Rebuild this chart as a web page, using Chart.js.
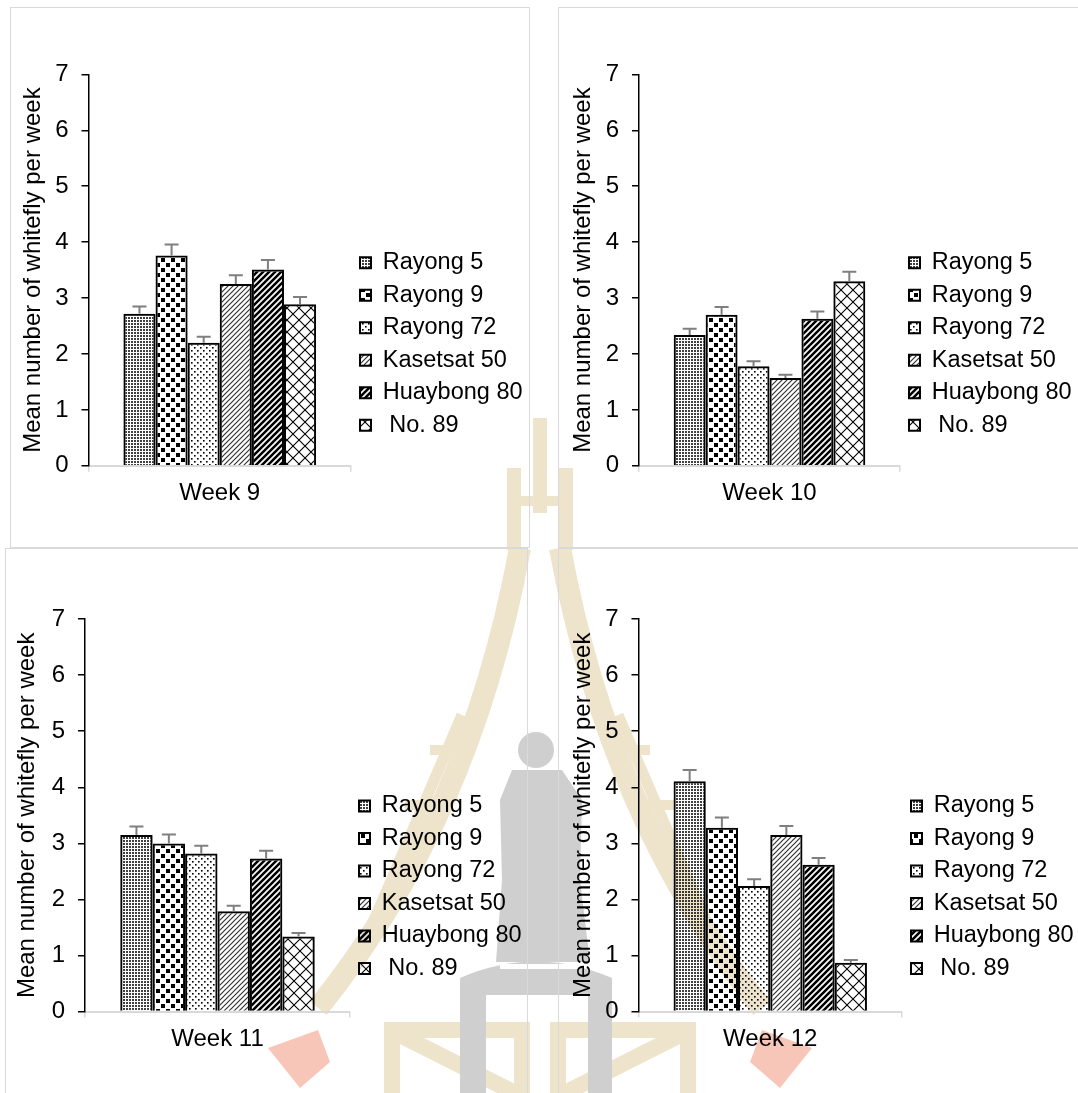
<!DOCTYPE html>
<html>
<head>
<meta charset="utf-8">
<script src="https://cdn.jsdelivr.net/npm/chart.js@4.4.1/dist/chart.umd.min.js"></script>
<style>
  body { margin: 0; background: #fff; width: 1078px; height: 1093px; position: relative; overflow: hidden; }
  #bg { position: absolute; left: 0; top: 0; }
  .panel { position: absolute; border: 1px solid #d9d9d9; overflow: hidden; }
  .panel canvas { display: block; }
</style>
</head>
<body>
<canvas id="bg" width="1078" height="1093"></canvas>
<div class="panel" style="left:10px;top:7px;width:518px;height:539px"><canvas id="w9"></canvas></div>
<div class="panel" style="left:558px;top:7px;width:540px;height:539px"><canvas id="w10"></canvas></div>
<div class="panel" style="left:5px;top:548px;width:521px;height:560px"><canvas id="w11"></canvas></div>
<div class="panel" style="left:558px;top:548px;width:540px;height:560px"><canvas id="w12"></canvas></div>
<script>
// data
const varieties = ['Rayong 5', 'Rayong 9', 'Rayong 72', 'Kasetsat 50', 'Huaybong 80', ' No. 89'];
const weeks = ['Week 9', 'Week 10', 'Week 11', 'Week 12'];
const week9  = [2.72, 3.76, 2.20, 3.25, 3.51, 2.89];
const week10 = [2.34, 2.70, 1.78, 1.57, 2.63, 3.30];
const week11 = [3.15, 3.00, 2.82, 1.79, 2.73, 1.34];
const week12 = [4.11, 3.28, 2.24, 3.15, 2.62, 0.87];
const err9  = [0.13, 0.20, 0.11, 0.16, 0.17, 0.13];
const err10 = [0.11, 0.14, 0.09, 0.06, 0.13, 0.17];
const err11 = [0.15, 0.16, 0.14, 0.10, 0.14, 0.06];
const err12 = [0.20, 0.18, 0.12, 0.16, 0.12, 0.05];
const yTicks = [0, 1, 2, 3, 4, 5, 6, 7];

const FONT = "'Liberation Sans', Arial, sans-serif";
Chart.defaults.font.family = FONT;
Chart.defaults.font.size = 24;
Chart.defaults.color = '#000';

// background watermark (university emblem, roughly)
(function () {
  const g = document.getElementById('bg').getContext('2d');
  const beige = '#eee3cb';
  g.fillStyle = beige; g.strokeStyle = beige; g.lineCap = 'butt';
  g.fillRect(533, 418, 14, 95);
  g.fillRect(507, 468, 14, 82); g.fillRect(559, 468, 14, 82);
  g.fillRect(507, 496, 66, 10);
  g.lineWidth = 22;
  g.beginPath(); g.moveTo(520, 548); g.quadraticCurveTo(470, 820, 318, 1008); g.stroke();
  g.beginPath(); g.moveTo(560, 548); g.quadraticCurveTo(610, 820, 762, 1008); g.stroke();
  g.lineWidth = 11;
  g.beginPath(); g.moveTo(462, 715); g.lineTo(372, 925); g.stroke();
  g.beginPath(); g.moveTo(618, 715); g.lineTo(708, 925); g.stroke();
  g.fillRect(430, 745, 45, 10); g.fillRect(605, 745, 45, 10);
  g.fillRect(405, 800, 45, 10); g.fillRect(630, 800, 45, 10);
  g.lineWidth = 16;
  g.strokeRect(392, 1030, 130, 90); g.strokeRect(558, 1030, 130, 90);
  g.beginPath(); g.moveTo(400, 1035); g.lineTo(515, 1093); g.moveTo(680, 1035); g.lineTo(565, 1093); g.stroke();
  // statue
  g.fillStyle = '#cfcfcf';
  g.beginPath(); g.arc(536, 750, 18, 0, Math.PI * 2); g.fill();
  g.beginPath();
  g.moveTo(512, 770); g.lineTo(562, 770); g.lineTo(582, 800); g.lineTo(580, 880);
  g.lineTo(590, 962); g.lineTo(496, 962); g.lineTo(502, 880); g.lineTo(500, 800); g.closePath(); g.fill();
  g.beginPath(); g.moveTo(460, 1093); g.lineTo(460, 978); g.quadraticCurveTo(535, 945, 612, 978);
  g.lineTo(612, 1093); g.lineTo(588, 1093); g.lineTo(588, 995); g.lineTo(486, 995); g.lineTo(486, 1093); g.closePath(); g.fill();
  g.fillStyle = '#fff'; g.fillRect(500, 964, 80, 5);
  // red chevrons
  g.fillStyle = '#f7c6b8';
  g.beginPath(); g.moveTo(268, 1048); g.lineTo(318, 1030); g.lineTo(330, 1062); g.lineTo(300, 1088); g.closePath(); g.fill();
  g.beginPath(); g.moveTo(812, 1048); g.lineTo(762, 1030); g.lineTo(750, 1062); g.lineTo(780, 1088); g.closePath(); g.fill();
})();

// fill patterns, one per variety
function tile(w, h, draw) {
  const c = document.createElement('canvas');
  c.width = w; c.height = h;
  const g = c.getContext('2d');
  g.fillStyle = '#000'; g.strokeStyle = '#000';
  draw(g);
  return g.createPattern(c, 'repeat');
}
function diag(g, s, lw) {
  g.lineWidth = lw;
  g.beginPath();
  g.moveTo(-1, s + 1); g.lineTo(s + 1, -1);
  g.moveTo(-1, 1); g.lineTo(1, -1);
  g.moveTo(s - 1, s + 1); g.lineTo(s + 1, s - 1);
  g.stroke();
}
const patterns = [
  tile(3, 3, g => { g.globalAlpha = 0.75; g.fillRect(0, 0, 2, 2); }),
  tile(10, 10, g => { g.fillRect(0, 0, 4, 4); g.fillRect(5, 5, 4, 4); }),
  tile(6, 6, g => { g.fillRect(0, 0, 1.6, 1.6); g.fillRect(3, 3, 1.6, 1.6); }),
  tile(5, 5, g => { g.strokeStyle = '#333'; diag(g, 5, 1.2); }),
  tile(6, 6, g => diag(g, 6, 2.6)),
  tile(12, 12, g => {
    g.lineWidth = 1.1; g.beginPath();
    g.moveTo(0, 0); g.lineTo(12, 12); g.moveTo(0, 12); g.lineTo(12, 0); g.stroke();
  })
];

const errorBars = {
  id: 'errorBars',
  afterDatasetsDraw(chart) {
    const { ctx, scales: { y } } = chart;
    ctx.save();
    ctx.strokeStyle = '#7f7f7f';
    ctx.lineWidth = 2;
    chart.data.datasets.forEach((ds, i) => {
      const bar = chart.getDatasetMeta(i).data[0];
      const top = y.getPixelForValue(ds.data[0] + ds.errorBar);
      ctx.beginPath();
      ctx.moveTo(bar.x, bar.y); ctx.lineTo(bar.x, top);
      ctx.moveTo(bar.x - 7, top); ctx.lineTo(bar.x + 7, top);
      ctx.stroke();
    });
    ctx.restore();
  }
};

function makeChart(id, week, values, errs, L) {
  const cv = document.getElementById(id);
  cv.width = L.w; cv.height = L.h;
  // legend takes everything right of the plot; its natural width is a bit larger, so maxWidth pins it
  const legendW = L.w - L.right;
  const legendFont = 23.5, legendPad = 9;
  return new Chart(cv, {
    type: 'bar',
    data: {
      labels: [week],
      datasets: varieties.map((name, i) => ({
        label: name,
        data: [values[i]],
        errorBar: errs[i],
        backgroundColor: patterns[i],
        borderColor: '#000',
        borderWidth: 2,
        categoryPercentage: 0.734,
        barPercentage: 1
      }))
    },
    options: {
      responsive: false,
      animation: false,
      events: [],
      layout: { padding: { top: L.top, left: 0, bottom: 0, right: 0 } },
      scales: {
        x: {
          grid: { drawOnChartArea: false, color: '#d9d9d9', tickLength: 6, lineWidth: 1.5 },
          border: { color: '#d9d9d9', width: 2 },
          ticks: { padding: 7, color: '#000' },
          afterFit: s => { s.height = L.h - L.bottom; }
        },
        y: {
          min: 0, max: 7,
          afterBuildTicks: s => { s.ticks = yTicks.map(v => ({ value: v })); },
          grid: { drawOnChartArea: false, color: '#000', tickLength: 7, lineWidth: 1.5 },
          border: { color: '#000', width: 1.5 },
          ticks: { padding: 13, color: '#000' },
          title: { display: true, text: 'Mean number of whitefly per week', color: '#000', padding: { top: L.titleC - 14.4, bottom: 0 } },
          afterFit: s => { s.width = L.axis; }
        }
      },
      plugins: {
        tooltip: { enabled: false },
        legend: {
          position: 'right',
          align: 'start',
          maxWidth: legendW,
          title: { display: true, text: '', font: { size: 1, lineHeight: 1 },
                   padding: { top: L.row1 - L.top - legendPad - legendFont / 2 - 1, bottom: 0 } },
          labels: { boxWidth: 11, boxHeight: 11, padding: legendPad, color: '#000', font: { size: legendFont } }
        }
      }
    },
    plugins: [errorBars]
  });
}

makeChart('w9', weeks[0], week9, err9, { w: 518, h: 539, axis: 77.5, top: 66.4, bottom: 457.8, right: 340, row1: 254.7, titleC: 22 });
makeChart('w10', weeks[1], week10, err10, { w: 519, h: 539, axis: 80, top: 66.4, bottom: 457.8, right: 341, row1: 254.7, titleC: 24 });
makeChart('w11', weeks[2], week11, err11, { w: 521, h: 544, axis: 79, top: 70.1, bottom: 462.6, right: 344, row1: 257, titleC: 21 });
makeChart('w12', weeks[3], week12, err12, { w: 519, h: 544, axis: 79.5, top: 70.1, bottom: 462.6, right: 343, row1: 257, titleC: 24 });
</script>
</body>
</html>
